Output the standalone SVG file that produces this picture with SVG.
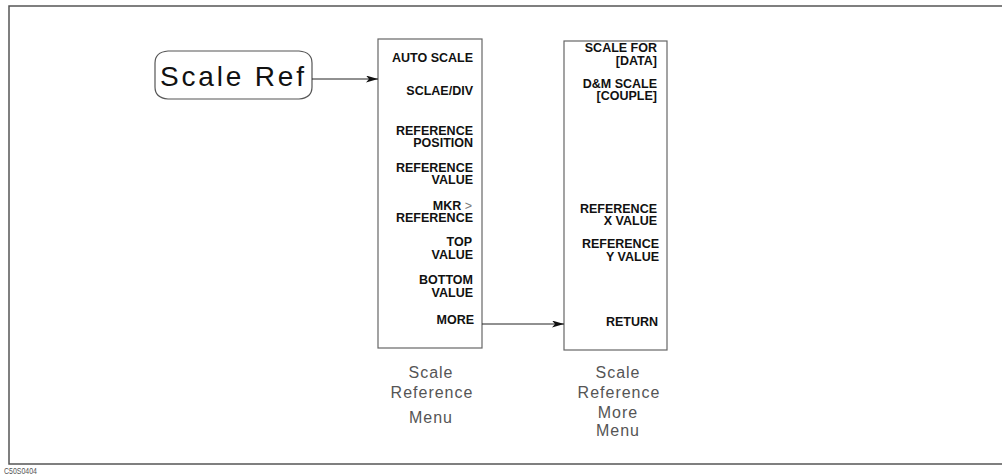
<svg xmlns="http://www.w3.org/2000/svg" width="1002" height="476" viewBox="0 0 1002 476">
<style>
.frame{fill:none;stroke:#555;stroke-width:1.5}
.box{fill:#fff;stroke:#666;stroke-width:1.2}
.key{font-family:"Liberation Sans",Arial,sans-serif;font-weight:bold;font-size:12.5px;fill:#111;text-anchor:end}
.cap{font-family:"Liberation Sans",Arial,sans-serif;font-size:16px;fill:#555;text-anchor:middle;letter-spacing:1px}
.conn{stroke:#222;stroke-width:1;fill:none}
</style>
<defs>
<marker id="ah" markerWidth="13" markerHeight="7" refX="12" refY="3.5" orient="auto" markerUnits="userSpaceOnUse">
<path d="M0,0 L12,3.5 L0,7 L3,3.5 Z" fill="#111"/>
</marker>
</defs>
<rect width="1002" height="476" fill="#fff"/>
<path class="frame" d="M1003 6 H9 V464 H1003"/>
<g id="scale-ref">
<path d="M168 51 L299 51 Q312 52 312 63 L312 87 Q312 98 299 99 L168 99 Q155 98 155 87 L155 63 Q155 52 168 51 Z" fill="#fff" stroke="#555" stroke-width="1.2"/>
<text x="160" y="86" font-family="Liberation Sans, Arial, sans-serif" font-size="28" fill="#111" textLength="144" lengthAdjust="spacing">Scale Ref</text>
</g>
<g id="scale-reference-menu">
<rect class="box" x="378" y="39" width="104" height="309"/>
<text class="key" x="473" y="62">AUTO SCALE</text>
<text class="key" x="473" y="95">SCLAE/DIV</text>
<text class="key" x="473" y="135">REFERENCE</text>
<text class="key" x="473" y="147">POSITION</text>
<text class="key" x="473" y="172">REFERENCE</text>
<text class="key" x="473" y="184">VALUE</text>
<text class="key" x="472" y="210">MKR <tspan font-weight="normal" fill="#777">&gt;</tspan></text>
<text class="key" x="473" y="222">REFERENCE</text>
<text class="key" x="472" y="246">TOP</text>
<text class="key" x="473" y="259">VALUE</text>
<text class="key" x="473" y="284">BOTTOM</text>
<text class="key" x="473" y="297">VALUE</text>
<text class="key" x="474" y="324">MORE</text>
<text class="cap" x="431" y="378">Scale</text>
<text class="cap" x="432" y="398">Reference</text>
<text class="cap" x="431" y="423">Menu</text>
</g>
<g id="scale-reference-more-menu">
<rect class="box" x="564" y="41" width="103" height="309"/>
<text class="key" x="657" y="52">SCALE FOR</text>
<text class="key" x="657" y="65">[DATA]</text>
<text class="key" x="657" y="88">D&amp;M SCALE</text>
<text class="key" x="657" y="100">[COUPLE]</text>
<text class="key" x="657" y="213">REFERENCE</text>
<text class="key" x="657" y="225">X VALUE</text>
<text class="key" x="659" y="248">REFERENCE</text>
<text class="key" x="659" y="261">Y VALUE</text>
<text class="key" x="658" y="326">RETURN</text>
<text class="cap" x="618" y="378">Scale</text>
<text class="cap" x="619" y="398">Reference</text>
<text class="cap" x="618" y="418">More</text>
<text class="cap" x="618" y="436">Menu</text>
</g>
<g id="connectors">
<line class="conn" x1="312" y1="79" x2="378" y2="79" marker-end="url(#ah)"/>
<line class="conn" x1="482" y1="324" x2="564" y2="324" marker-end="url(#ah)"/>
</g>
<text x="4" y="474" font-family="Liberation Sans, Arial, sans-serif" font-size="9" fill="#555" textLength="33" lengthAdjust="spacingAndGlyphs">C50S0404</text>
</svg>
